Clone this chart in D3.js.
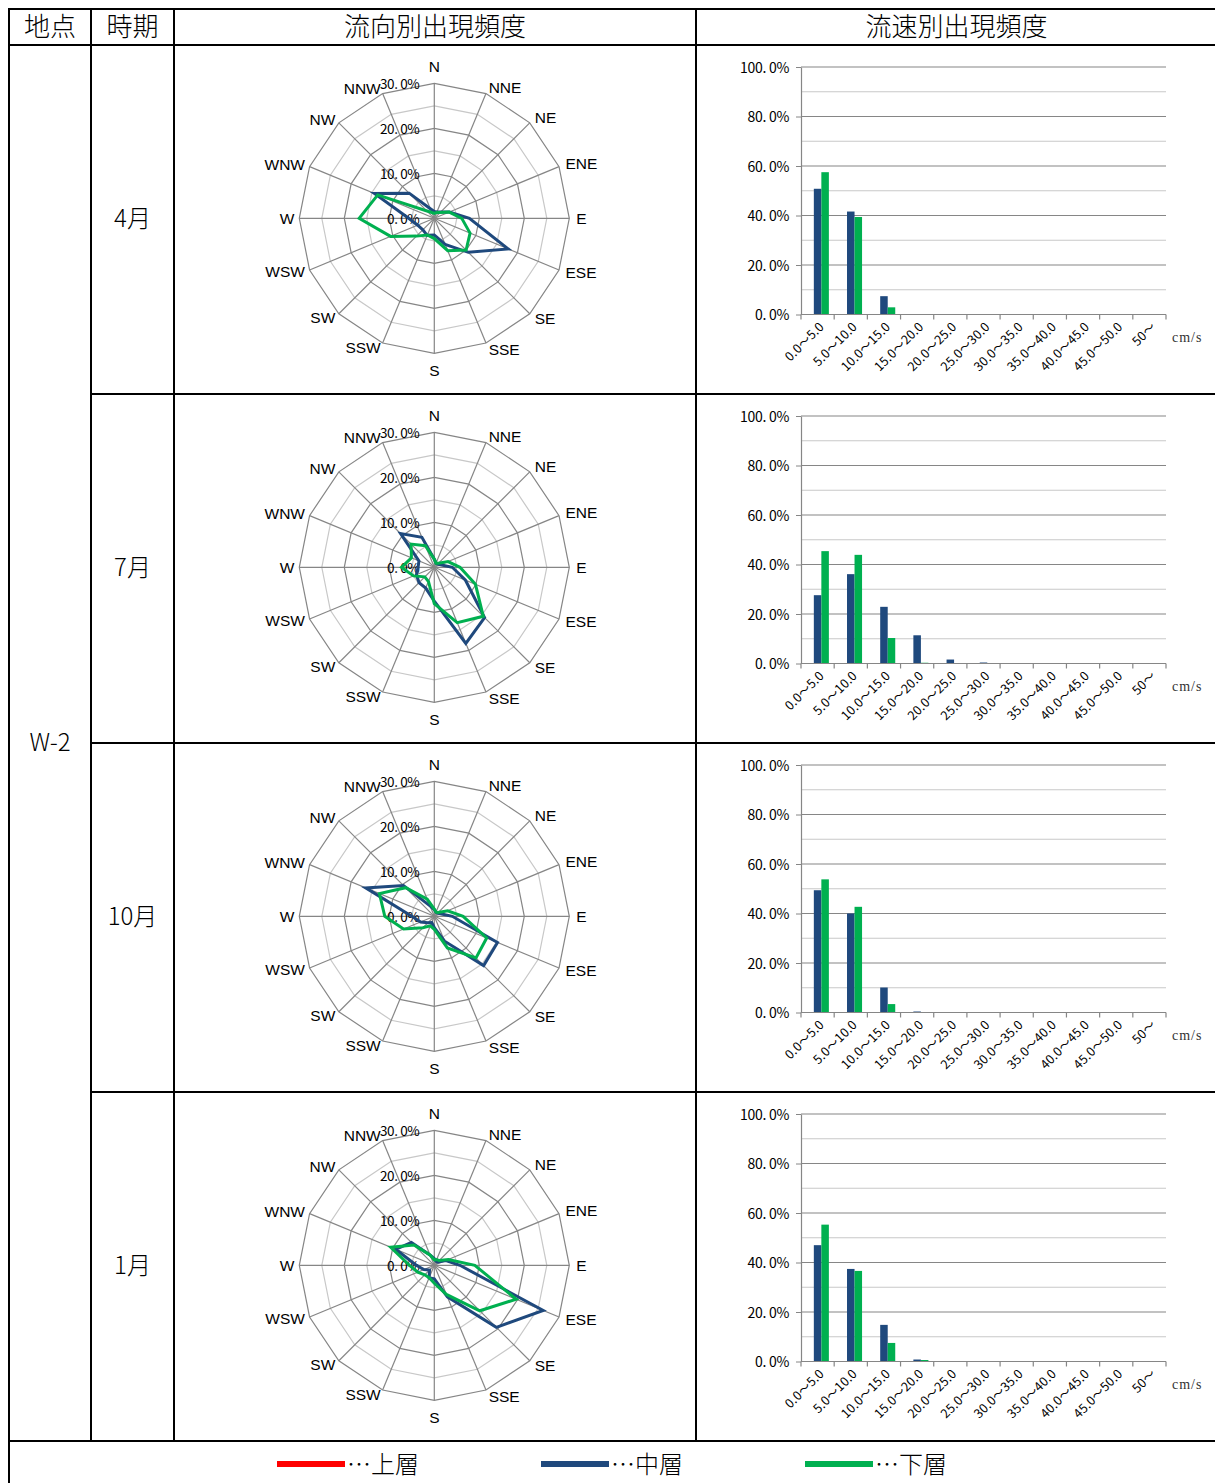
<!DOCTYPE html>
<html lang="ja">
<head>
<meta charset="utf-8">
<script src="https://cdn.jsdelivr.net/npm/d3@7"></script>
<style>
  body { margin: 0; background: #fff; }
  svg { display: block; }
</style>
</head>
<body>
<svg id="chart" width="1215" height="1483"></svg>
<script>
// ---- data -------------------------------------------------------------
const station = "W-2";
const months = ["4月", "7月", "10月", "1月"];
const layers = ["上層", "中層", "下層"];
const directions = ["N", "NNE", "NE", "ENE", "E", "ESE", "SE", "SSE",
                    "S", "SSW", "SW", "WSW", "W", "WNW", "NW", "NNW"];
const speedClasses = ["0.0～5.0", "5.0～10.0", "10.0～15.0", "15.0～20.0",
                      "20.0～25.0", "25.0～30.0", "30.0～35.0", "35.0～40.0",
                      "40.0～45.0", "45.0～50.0", "50～"];
const radarTicks = [0, 10, 20, 30];
const barTicks = [0, 20, 40, 60, 80, 100];

// frequency by direction (%), one row per month, N clockwise
const dirUpper = [null, null, null, null];
const dirMiddle = [
  [1.5, 1.5, 2.0, 3.6, 7.8, 17.8, 10.7, 6.3, 3.7, 4.1, 3.6, 4.0, 5.7, 14.4, 7.9, 2.3],
  [1.8, 1.0, 1.0, 1.5, 4.0, 7.5, 15.8, 18.3, 7.5, 5.0, 4.8, 4.3, 3.6, 3.7, 10.6, 7.2],
  [1.5, 1.0, 1.0, 1.5, 4.0, 15.2, 15.5, 6.0, 2.5, 1.5, 2.0, 3.3, 5.0, 16.5, 9.7, 2.5],
  [1.5, 1.0, 1.0, 2.8, 5.7, 26.2, 19.5, 7.6, 3.0, 3.0, 1.5, 2.5, 4.0, 9.3, 7.2, 2.5]
];
const dirLower = [
  [1.1, 1.4, 1.8, 3.6, 6.1, 8.6, 10.0, 7.8, 4.5, 4.0, 5.6, 10.5, 16.7, 13.6, 2.3, 1.4],
  [1.8, 1.0, 1.3, 3.3, 5.7, 9.9, 15.4, 13.3, 8.1, 3.4, 3.0, 5.0, 7.3, 5.5, 7.3, 5.2],
  [1.6, 1.0, 1.2, 3.2, 6.4, 12.6, 13.1, 7.6, 2.9, 2.3, 3.6, 7.4, 11.0, 13.2, 9.0, 4.1],
  [1.2, 1.4, 1.5, 3.4, 9.0, 19.7, 14.3, 7.0, 4.0, 3.0, 3.0, 4.0, 5.5, 10.5, 6.4, 2.5]
];

// frequency by speed class (%), one row per month
const speedUpper = [null, null, null, null];
const speedMiddle = [
  [50.8, 41.6, 7.4, 0.2, 0, 0, 0, 0, 0, 0, 0],
  [27.6, 36.1, 22.9, 11.4, 1.6, 0.4, 0, 0, 0, 0, 0],
  [49.4, 40.0, 10.1, 0.4, 0.1, 0, 0, 0, 0, 0, 0],
  [47.0, 37.4, 14.8, 0.8, 0, 0, 0, 0, 0, 0, 0]
];
const speedLower = [
  [57.5, 39.4, 2.9, 0.2, 0, 0, 0, 0, 0, 0, 0],
  [45.4, 43.9, 10.3, 0.3, 0.1, 0, 0, 0, 0, 0, 0],
  [53.8, 42.7, 3.4, 0.1, 0, 0, 0, 0, 0, 0, 0],
  [55.3, 36.6, 7.5, 0.6, 0, 0, 0, 0, 0, 0, 0]
];

// ---- styling ----------------------------------------------------------
const layerColor = { "上層": "#ff0000", "中層": "#1f497d", "下層": "#00b050" };
const dirSeries = { "上層": dirUpper, "中層": dirMiddle, "下層": dirLower };
const speedSeries = { "上層": speedUpper, "中層": speedMiddle, "下層": speedLower };

const cjk = "'Noto Sans CJK JP', 'Noto Sans CJK SC', sans-serif";
const latin = "'Liberation Sans', Arial, sans-serif";
const serif = "'Liberation Serif', 'DejaVu Serif', serif";
const gridDark = "#868686", gridLight = "#c8c8c8";

const pct = v => v.toFixed(1).replace(".", ". ") + "%";

const svg = d3.select("#chart");

// ---- table frame ------------------------------------------------------
const T = { left: 9, right: 1215, top: 9, head: 45, rowH: 349, cols: [9, 91, 174, 696] };
const rowTop = i => T.head + i * T.rowH;
const tableBottom = rowTop(months.length);

const frame = svg.append("g").attr("stroke", "#000").attr("stroke-width", 2);
const hline = (x1, x2, y) => frame.append("line").attr("x1", x1).attr("x2", x2).attr("y1", y).attr("y2", y);
const vline = (x, y1, y2) => frame.append("line").attr("x1", x).attr("x2", x).attr("y1", y1).attr("y2", y2);
hline(T.left - 1, T.right, T.top);
hline(T.left, T.right, T.head);
months.slice(1).forEach((m, i) => hline(T.cols[1], T.right, rowTop(i + 1)));
hline(T.left, T.right, tableBottom);
vline(T.left, T.top, 1483);
T.cols.slice(1).forEach(x => vline(x, T.top, tableBottom));

const headers = ["地点", "時期", "流向別出現頻度", "流速別出現頻度"];
const colEdges = [...T.cols, T.right];
svg.append("g").selectAll("text").data(headers).join("text")
  .attr("x", (d, i) => (colEdges[i] + colEdges[i + 1]) / 2 + (i === 3 ? 1 : 0))
  .attr("y", (T.top + T.head) / 2 + 9)
  .attr("text-anchor", "middle")
  .attr("font-family", cjk).attr("font-weight", 300).attr("font-size", 26)
  .text(d => d);

svg.append("text")
  .attr("x", (T.cols[0] + T.cols[1]) / 2).attr("y", (T.head + tableBottom) / 2 + 8)
  .attr("text-anchor", "middle")
  .attr("font-family", cjk).attr("font-weight", 300).attr("font-size", 24)
  .text(station);

svg.append("g").selectAll("text").data(months).join("text")
  .attr("x", (T.cols[1] + T.cols[2]) / 2).attr("y", (d, i) => rowTop(i) + 182)
  .attr("text-anchor", "middle")
  .attr("font-family", cjk).attr("font-weight", 300).attr("font-size", 24)
  .text(d => d);

// ---- direction radar --------------------------------------------------
const rScale = d3.scaleLinear().domain([0, 30]).range([0, 135]);
const angle = i => i * 2 * Math.PI / directions.length;
const radial = d3.lineRadial()
  .angle((d, i) => angle(i))
  .radius(d => rScale(d))
  .curve(d3.curveLinearClosed);

months.forEach((m, k) => {
  const g = svg.append("g")
    .attr("transform", `translate(434.3,${rowTop(k) + 173.3})`);

  rScale.ticks(6).filter(v => v > 0).forEach(v => {
    g.append("path")
      .attr("d", radial(directions.map(() => v)))
      .attr("fill", "none")
      .attr("stroke", v % 10 === 0 ? gridDark : gridLight)
      .attr("stroke-width", 1.2);
  });

  g.append("g").selectAll("line").data(directions).join("line")
    .attr("x1", 0).attr("y1", 0)
    .attr("x2", (d, i) => rScale(30) * Math.sin(angle(i)))
    .attr("y2", (d, i) => -rScale(30) * Math.cos(angle(i)))
    .attr("stroke", gridDark).attr("stroke-width", 1.2);

  g.append("g").selectAll("text").data(directions).join("text")
    .each(function (d, i) {
      const s = Math.sin(angle(i)), c = Math.cos(angle(i));
      let R = 142, anchor = "start";
      if (Math.abs(s) < 0.1) { R = 152; anchor = "middle"; }
      else if (s < 0) { R = 140; anchor = "end"; }
      d3.select(this)
        .attr("x", R * s).attr("y", -R * c)
        .attr("text-anchor", anchor);
    })
    .attr("dominant-baseline", "central")
    .attr("font-family", latin).attr("font-size", 15.5)
    .text(d => d);

  g.append("g").selectAll("text").data(radarTicks).join("text")
    .attr("x", -15).attr("y", d => -rScale(d) + 5.5)
    .attr("text-anchor", "end")
    .attr("font-family", cjk).attr("font-size", 13.5).attr("letter-spacing", -0.4)
    .text(pct);

  layers.forEach(layer => {
    const vals = dirSeries[layer][k];
    if (!vals) return;
    g.append("path")
      .attr("d", radial(vals))
      .attr("fill", "none")
      .attr("stroke", layerColor[layer])
      .attr("stroke-width", 3)
      .attr("stroke-linejoin", "miter");
  });
});

// ---- speed bar charts -------------------------------------------------
const plotX = [801, 1166];
const xBand = d3.scaleBand().domain(speedClasses).range(plotX)
  .paddingInner(0.32).paddingOuter(0.16);
const xLayer = d3.scaleBand().domain(layers).range([0, xBand.bandwidth()]);

months.forEach((m, k) => {
  const y = d3.scaleLinear().domain([0, 100]).range([rowTop(k) + 269.5, rowTop(k) + 22]);
  const g = svg.append("g");

  g.append("g").selectAll("line").data(y.ticks(10).filter(v => v > 0)).join("line")
    .attr("x1", plotX[0]).attr("x2", plotX[1])
    .attr("y1", d => y(d)).attr("y2", d => y(d))
    .attr("stroke", d => d % 20 === 0 ? gridDark : gridLight)
    .attr("stroke-width", 1.2);

  // y axis
  const yAxis = g.append("g")
    .attr("transform", `translate(${plotX[0]},0)`)
    .call(d3.axisLeft(y).tickValues(barTicks).tickSizeInner(5).tickSizeOuter(0).tickFormat(pct));
  yAxis.select(".domain").attr("stroke", gridDark).attr("stroke-width", 1.2);
  yAxis.selectAll(".tick line").attr("stroke", gridDark);
  yAxis.selectAll(".tick text")
    .attr("x", -12).attr("dy", "0.38em")
    .attr("font-family", cjk).attr("font-size", 14).attr("letter-spacing", -0.3)
    .attr("fill", "#000");

  // bars
  layers.forEach(layer => {
    const vals = speedSeries[layer][k];
    if (!vals) return;
    g.append("g").selectAll("rect").data(vals).join("rect")
      .attr("x", (d, j) => xBand(speedClasses[j]) + xLayer(layer))
      .attr("width", xLayer.bandwidth())
      .attr("y", d => y(d))
      .attr("height", d => y(0) - y(d))
      .attr("fill", layerColor[layer]);
  });

  // x axis
  const y0 = y(0);
  g.append("line").attr("x1", plotX[0]).attr("x2", plotX[1])
    .attr("y1", y0).attr("y2", y0).attr("stroke", gridDark).attr("stroke-width", 1.2);
  g.append("g").selectAll("line").data(d3.range(speedClasses.length + 1)).join("line")
    .attr("x1", i => plotX[0] + i * xBand.step()).attr("x2", i => plotX[0] + i * xBand.step())
    .attr("y1", y0).attr("y2", y0 + 5).attr("stroke", gridDark).attr("stroke-width", 1.2);

  g.append("g").selectAll("text").data(speedClasses).join("text")
    .attr("transform", d => `translate(${xBand(d) + xBand.bandwidth() / 2 + 4},${y0 + 10}) rotate(-45)`)
    .attr("text-anchor", "end").attr("dy", "0.35em")
    .attr("font-family", cjk).attr("font-size", 12.5).attr("letter-spacing", 0.2)
    .text(d => d);

  g.append("text")
    .attr("x", 1172).attr("y", rowTop(k) + 297)
    .attr("font-family", serif).attr("font-size", 14).attr("letter-spacing", 1)
    .attr("fill", "#333")
    .text("cm/s");
});

// ---- legend -----------------------------------------------------------
const legend = svg.append("g").selectAll("g").data(layers).join("g")
  .attr("transform", (d, i) => `translate(${277 + i * 264},${tableBottom + 23})`);
legend.append("rect")
  .attr("x", 0).attr("y", -3).attr("width", 68).attr("height", 6)
  .attr("fill", d => layerColor[d]);
legend.append("text")
  .attr("x", 70).attr("y", 9)
  .attr("font-family", cjk).attr("font-weight", 300).attr("font-size", 24)
  .text(d => "…" + d);
</script>
</body>
</html>
